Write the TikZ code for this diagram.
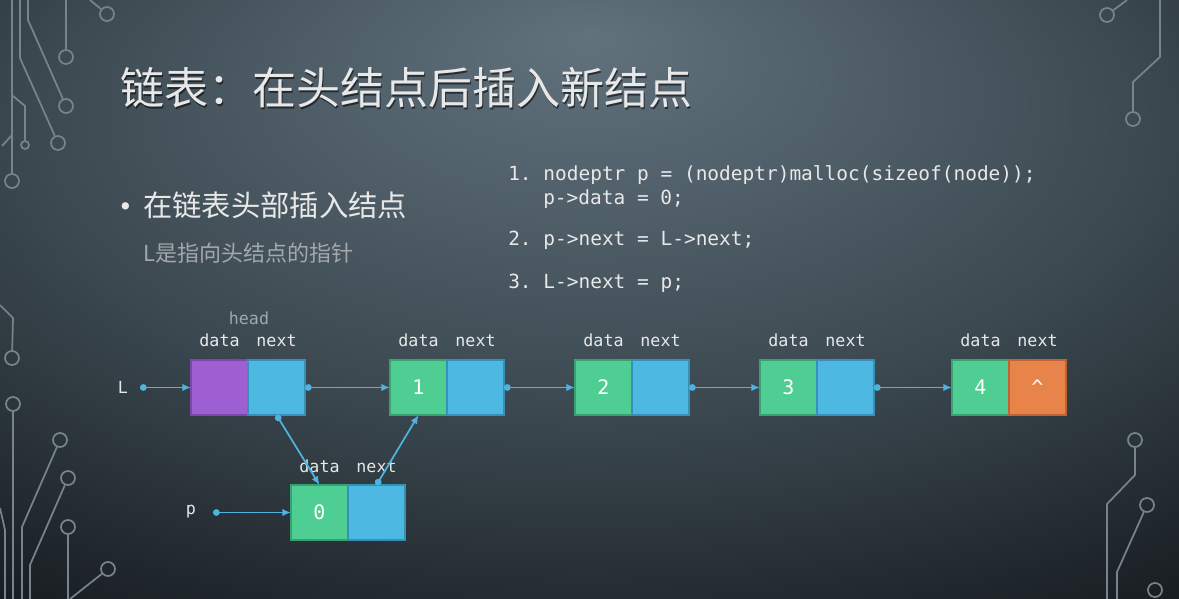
\documentclass[tikz,border=0pt]{standalone}
\usepackage{fontspec}
\setmainfont{Noto Sans CJK SC}
\newfontfamily\cjk{Noto Sans CJK SC}
\newfontfamily\codefont{DejaVu Sans Mono}
\usetikzlibrary{arrows.meta,positioning}
\frenchspacing

\definecolor{bgA}{HTML}{61727D}
\definecolor{bgB}{HTML}{3B4850}
\definecolor{bgC}{HTML}{0E1114}
\definecolor{decorgray}{HTML}{76848C}
\definecolor{txtlight}{HTML}{E8E8E8}
\definecolor{txtgray}{HTML}{A3A8AB}
\definecolor{ptrblue}{HTML}{4DB3DF}
\definecolor{cellblue}{HTML}{4DB9E2}
\definecolor{blueline}{HTML}{3690B8}
\definecolor{cellgreen}{HTML}{4ECE92}
\definecolor{greenline}{HTML}{37A172}
\definecolor{cellpurple}{HTML}{9E5FD2}
\definecolor{purpleline}{HTML}{7B47AC}
\definecolor{cellorange}{HTML}{E8844A}
\definecolor{orangeline}{HTML}{BE6434}

\pgfdeclareradialshading{slidebg}{\pgfpoint{0bp}{22bp}}{color(0bp)=(bgA); color(24bp)=(bgB); color(47bp)=(bgC); color(70bp)=(bgC)}

\tikzset{
  decor/.style={draw=decorgray, line width=1.3pt},
  ring/.style={decor, circle, minimum size=10.5pt, inner sep=0pt},
  smallring/.style={decor, circle, minimum size=6pt, inner sep=0pt},
  datacell/.style={draw=greenline, fill=cellgreen, line width=1.3pt, minimum width=42.75pt, minimum height=41.25pt,
    inner sep=0pt, outer sep=0pt, text=white, font=\codefont\fontsize{15}{15}\selectfont},
  nextcell/.style={datacell, draw=blueline, fill=cellblue},
  fieldlbl/.style={inner sep=0pt, text=txtlight, font=\codefont\fontsize{12.5}{12.5}\selectfont},
  varlbl/.style={inner sep=0pt, text=txtlight, font=\codefont\fontsize{12.5}{12.5}\selectfont},
  codeline/.style={inner sep=0pt, anchor=base west, text=txtlight, font=\codefont\fontsize{14.6}{14.6}\selectfont},
  ptr/.style={draw=ptrblue, line width=1.3pt, {Circle[length=5pt]}-{Latex[length=6.5pt,width=5.5pt]}}
}

\begin{document}
\begin{tikzpicture}[x=0.75pt, y=-0.75pt]
\useasboundingbox (0,0) rectangle (1179,599);
\shade[shading=slidebg] (0,0) rectangle (1179,599);

% circuit lines, left side
\node[ring] (a1) at (107,14) {};
\node[ring] (a2) at (66,57) {};
\node[ring] (a3) at (66,106) {};
\node[ring] (a4) at (58,143) {};
\node[ring] (a5) at (12,181) {};
\node[smallring] (a6) at (25,145) {};
\node[ring] (a7) at (12,358) {};
\node[ring] (a8) at (13,404) {};
\node[ring] (a9) at (60,440) {};
\node[ring] (a10) at (68,478) {};
\node[ring] (a11) at (68,527) {};
\node[ring] (a12) at (108,569) {};
\draw[decor] (90,0) -- (a1);
\draw[decor] (66,0) -- (a2);
\draw[decor] (28,0) -- (28,20) -- (a3);
\draw[decor] (20,0) -- (20,58) -- (a4);
\draw[decor] (12,0) -- (a5);
\draw[decor] (13,96) -- (25,106) -- (a6);
\draw[decor] (2,146) -- (12,135);
\draw[decor] (0,305) -- (13,318) -- (a7);
\draw[decor] (a8) -- (13,599);
\draw[decor] (a9) -- (22,527) -- (22,599);
\draw[decor] (a10) -- (30,565) -- (30,599);
\draw[decor] (a11) -- (68,599);
\draw[decor] (a12) -- (70,599);
\draw[decor] (0,508) -- (5,530) -- (5,599);

% circuit lines, right side
\node[ring] (b1) at (1107,15) {};
\node[ring] (b2) at (1133,119) {};
\node[ring] (b3) at (1135,440) {};
\node[ring] (b4) at (1147,505) {};
\node[ring] (b5) at (1155,590) {};
\draw[decor] (1127,0) -- (b1);
\draw[decor] (1160,0) -- (1160,57) -- (1133,82) -- (b2);
\draw[decor] (b3) -- (1135,475) -- (1107,504) -- (1107,599);
\draw[decor] (b4) -- (1117,572) -- (1117,599);

% title and text
\node[anchor=west, inner sep=0pt, text=black, opacity=.55, font=\cjk\fontsize{33}{33}\selectfont] (tsh) at (121.5,89.5) {链表：在头结点后插入新结点};
\node[anchor=west, inner sep=0pt, text=txtlight, font=\cjk\fontsize{33}{33}\selectfont] (title) at (120,88) {链表：在头结点后插入新结点};
\node[inner sep=0pt, text=txtlight, font=\cjk\fontsize{26}{26}\selectfont] (dot) at (126,211) {•};
\node[anchor=west, inner sep=0pt, text=txtlight, font=\cjk\fontsize{22}{22}\selectfont] (bullet) at (143,205) {在链表头部插入结点};
\node[anchor=west, inner sep=0pt, text=txtgray, font=\cjk\fontsize{16.5}{16.5}\selectfont] (sub) at (143,253) {L是指向头结点的指针};

% code
\node[codeline] (c1) at (508,181) {1. nodeptr p = (nodeptr)malloc(sizeof(node));};
\node[codeline] (c1b) at (543,205) {p->data = 0;};
\node[codeline] (c2) at (508,246) {2. p->next = L->next;};
\node[codeline] (c3) at (508,289) {3. L->next = p;};

% list nodes
\node[datacell, fill=cellpurple, draw=purpleline] (hd) at (219.5,387.5) {};
\node[nextcell] (hn) [right=0pt of hd] {};
\node[datacell] (d1) at (418.5,387.5) {1};
\node[nextcell] (n1) [right=0pt of d1] {};
\node[datacell] (d2) at (603.5,387.5) {2};
\node[nextcell] (n2) [right=0pt of d2] {};
\node[datacell] (d3) at (788.5,387.5) {3};
\node[nextcell] (n3) [right=0pt of d3] {};
\node[datacell] (d4) at (980.5,387.5) {4};
\node[nextcell, fill=cellorange, draw=orangeline] (n4) [right=0pt of d4] {\textasciicircum};
\node[datacell] (d0) at (319.5,512.5) {0};
\node[nextcell] (n0) [right=0pt of d0] {};

% field labels
\node[fieldlbl, text=txtgray] (hh) at (249,318) {head};
\node[fieldlbl, above=9.5pt of hd] (hdl) {data};
\node[fieldlbl, above=9.5pt of hn] (hnl) {next};
\node[fieldlbl, above=9.5pt of d1] (d1l) {data};
\node[fieldlbl, above=9.5pt of n1] (n1l) {next};
\node[fieldlbl, above=9.5pt of d2] (d2l) {data};
\node[fieldlbl, above=9.5pt of n2] (n2l) {next};
\node[fieldlbl, above=9.5pt of d3] (d3l) {data};
\node[fieldlbl, above=9.5pt of n3] (n3l) {next};
\node[fieldlbl, above=9.5pt of d4] (d4l) {data};
\node[fieldlbl, above=9.5pt of n4] (n4l) {next};
\node[fieldlbl, above=9pt of d0] (d0l) {data};
\node[fieldlbl, above=9pt of n0] (n0l) {next};

% pointers
\node[varlbl] (Ll) at (123,387) {L};
\coordinate (Lp) at (140,387.5);
\node[varlbl] (pl) at (191,512) {p};
\coordinate (pp) at (213,512.5);
\draw[ptr] (Lp) -- (hd);
\draw[ptr] (pp) -- (d0);
\draw[ptr] (hn.east) -- (d1);
\draw[ptr] (n1.east) -- (d2);
\draw[ptr] (n2.east) -- (d3);
\draw[ptr] (n3.east) -- (d4);
\draw[ptr] (hn.south) -- (d0.north);
\draw[ptr] (n0.north) -- (d1.south);
\end{tikzpicture}
\end{document}
